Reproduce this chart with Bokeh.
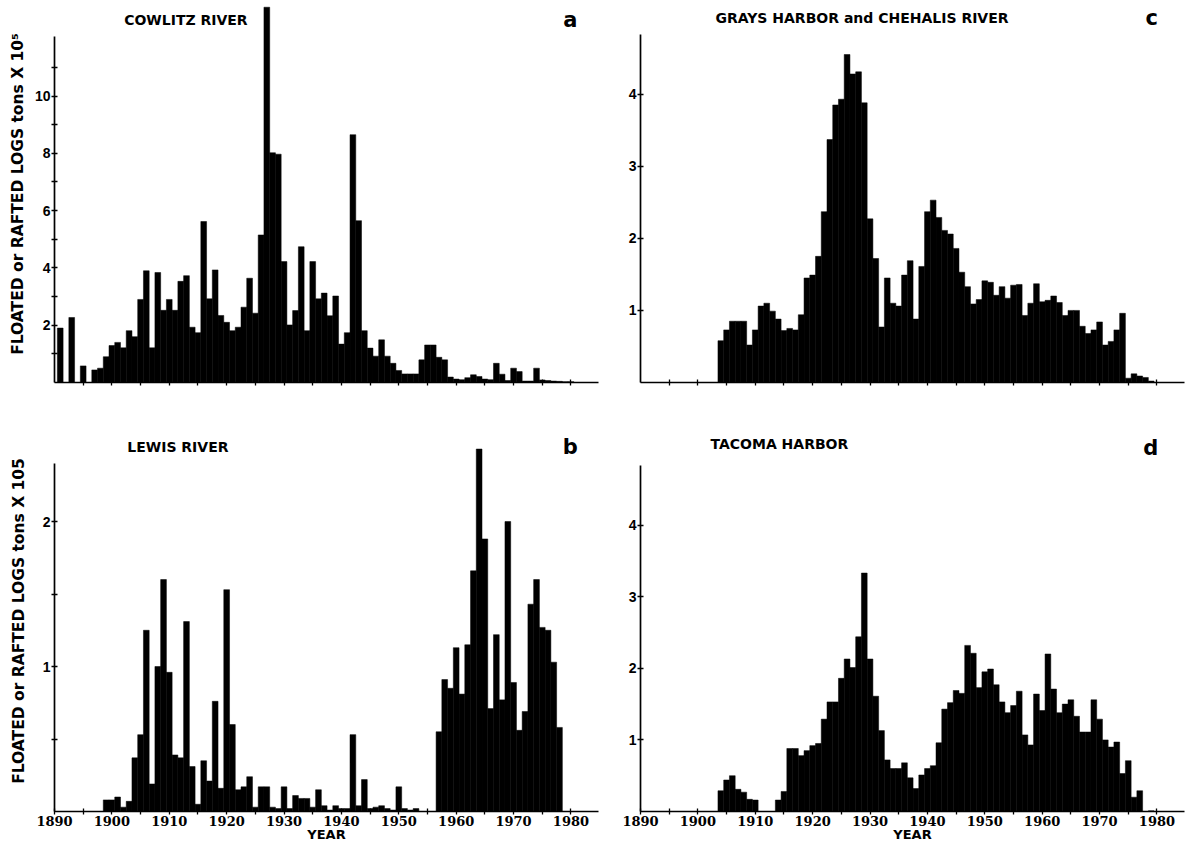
from bokeh.plotting import figure
from bokeh.layouts import column, row
from bokeh.models import FixedTicker, Range1d, Label, CustomJSTickFormatter
from bokeh.embed import file_html
from bokeh.resources import INLINE

years = list(range(1890, 1981))

# Cowlitz River (tons x 10^5), 1890-1980
cowlitz = [0, 1.9, 0, 2.27, 0, 0.58, 0, 0.44, 0.5, 0.9,
           1.29, 1.4, 1.21, 1.81, 1.6, 2.9, 3.9, 1.21, 3.84, 2.52,
           2.9, 2.52, 3.53, 3.73, 1.93, 1.74, 5.62, 2.92, 3.93, 2.34,
           2.1, 1.81, 1.93, 2.63, 3.64, 2.42, 5.15, 13.1, 8.02, 7.97,
           4.22, 2.01, 2.51, 4.74, 1.81, 4.22, 2.92, 3.12, 2.33, 3.02,
           1.34, 1.74, 8.65, 5.65, 1.81, 1.2, 0.92, 1.49, 0.92, 0.67,
           0.42, 0.3, 0.3, 0.3, 0.79, 1.31, 1.31, 0.88, 0.79, 0.19,
           0.12, 0.1, 0.17, 0.27, 0.21, 0.12, 0.1, 0.67, 0.29, 0.07,
           0.5, 0.38, 0.05, 0.05, 0.5, 0.09, 0.07, 0.05, 0.04, 0.03,
           0.03]

# Lewis River
lewis = [0, 0, 0, 0, 0, 0, 0, 0, 0, 0.08,
         0.08, 0.1, 0.03, 0.07, 0.37, 0.53, 1.25, 0.19, 1.0, 1.6,
         0.96, 0.39, 0.37, 1.31, 0.31, 0.05, 0.35, 0.21, 0.76, 0.16,
         1.53, 0.6, 0.15, 0.17, 0.24, 0.03, 0.17, 0.17, 0.03, 0.02,
         0.17, 0.02, 0.11, 0.09, 0.09, 0.03, 0.15, 0.04, 0.01, 0.04,
         0.02, 0.02, 0.53, 0.04, 0.22, 0.02, 0.03, 0.04, 0.02, 0.01,
         0.17, 0.02, 0.01, 0.02, 0, 0, 0, 0.55, 0.91, 0.85,
         1.13, 0.81, 1.15, 1.66, 2.5, 1.88, 0.71, 1.22, 0.77, 2.0,
         0.89, 0.56, 0.69, 1.43, 1.6, 1.27, 1.25, 1.03, 0.58, 0,
         0]

# Grays Harbor and Chehalis River
grays = [0, 0, 0, 0, 0, 0, 0, 0, 0, 0,
         0, 0, 0, 0, 0.58, 0.73, 0.85, 0.85, 0.85, 0.52,
         0.73, 1.06, 1.1, 0.99, 0.88, 0.72, 0.75, 0.73, 0.94, 1.45,
         1.49, 1.75, 2.37, 3.37, 3.85, 3.93, 4.55, 4.28, 4.31, 3.88,
         2.27, 1.72, 0.77, 1.45, 1.1, 1.06, 1.49, 1.69, 0.88, 1.61,
         2.37, 2.53, 2.29, 2.11, 2.06, 1.86, 1.53, 1.33, 1.09, 1.15,
         1.41, 1.39, 1.21, 1.33, 1.17, 1.35, 1.36, 0.93, 1.1, 1.37,
         1.12, 1.14, 1.2, 1.11, 0.93, 1.0, 1.0, 0.78, 0.68, 0.73,
         0.84, 0.52, 0.57, 0.73, 0.96, 0.06, 0.12, 0.09, 0.07, 0.02,
         0]

# Tacoma Harbor
tacoma = [0, 0, 0, 0, 0, 0, 0, 0, 0, 0,
          0, 0, 0, 0, 0.29, 0.44, 0.5, 0.31, 0.27, 0.17,
          0.16, 0, 0, 0, 0.16, 0.28, 0.88, 0.88, 0.78, 0.85,
          0.92, 0.95, 1.29, 1.53, 1.53, 1.86, 2.13, 2.01, 2.44, 3.33,
          2.13, 1.61, 1.13, 0.72, 0.6, 0.6, 0.68, 0.47, 0.32, 0.51,
          0.6, 0.64, 0.96, 1.43, 1.52, 1.69, 1.65, 2.32, 2.21, 1.73,
          1.95, 1.99, 1.77, 1.53, 1.38, 1.48, 1.68, 1.07, 0.93, 1.64,
          1.41, 2.2, 1.71, 1.38, 1.5, 1.56, 1.33, 1.11, 1.11, 1.56,
          1.29, 1.0, 0.9, 0.97, 0.53, 0.71, 0.2, 0.29, 0, 0.01,
          0]

decades = [1890, 1900, 1910, 1920, 1930, 1940, 1950, 1960, 1970, 1980]
halves = [1895, 1905, 1915, 1925, 1935, 1945, 1955, 1965, 1975]
five_year = [1895, 1900, 1905, 1910, 1915, 1920, 1925, 1930, 1935, 1940, 1945,
             1950, 1955, 1960, 1965, 1970, 1975, 1980]

YLABEL_A = "FLOATED or RAFTED LOGS tons X 10\u2075"
YLABEL_B = "FLOATED or RAFTED LOGS tons X 105"

TITLE_FONT = "DejaVu Sans"


def make_panel(values, width, height, left, right, top, bottom, y_end, y_bound,
               y_major, y_minor, labelled_x, ylabel=None, ylabel_standoff=8,
               xlabel_standoff=0):
    p = figure(width=width, height=height,
               x_range=Range1d(1890, 1984.8), y_range=Range1d(0, y_end),
               output_backend="svg", toolbar_location=None,
               min_border_left=left, min_border_right=right,
               min_border_top=top, min_border_bottom=bottom)
    p.vbar(x=years, top=values, width=1.0, bottom=0,
           fill_color="black", line_color="black", line_width=0.5)
    p.xgrid.visible = False
    p.ygrid.visible = False
    p.outline_line_color = None
    p.background_fill_color = "white"
    p.border_fill_color = "white"

    xa = p.xaxis[0]
    ya = p.yaxis[0]
    for ax in (xa, ya):
        ax.axis_line_color = "black"
        ax.axis_line_width = 1.7
        ax.major_tick_line_color = "black"
        ax.minor_tick_line_color = "black"
        ax.major_tick_line_width = 1.3
        ax.minor_tick_line_width = 1.3
        ax.major_tick_in = 3
        ax.major_tick_out = 3
        ax.minor_tick_in = 3
        ax.minor_tick_out = 3

    ya.bounds = (0, y_bound)
    ya.ticker = FixedTicker(ticks=y_major, minor_ticks=y_minor)
    ya.major_label_text_font = "Liberation Sans"
    ya.major_label_text_font_style = "bold"
    ya.major_label_text_font_size = "14px"
    ya.major_label_text_color = "black"
    ya.major_label_standoff = 1
    if ylabel:
        ya.axis_label = ylabel
        ya.axis_label_text_font = TITLE_FONT
        ya.axis_label_text_font_style = "bold"
        ya.axis_label_text_font_size = "15.5px"
        ya.axis_label_text_color = "black"
        ya.axis_label_standoff = ylabel_standoff

    if labelled_x:
        xa.ticker = FixedTicker(ticks=decades, minor_ticks=halves)
        xa.major_label_text_font = "DejaVu Serif"
        xa.major_label_text_font_style = "bold"
        xa.major_label_text_font_size = "13px"
        xa.major_label_text_color = "black"
        xa.major_label_standoff = 1
        xa.axis_label = "YEAR"
        xa.axis_label_text_font = TITLE_FONT
        xa.axis_label_text_font_style = "bold"
        xa.axis_label_text_font_size = "13px"
        xa.axis_label_text_color = "black"
        xa.axis_label_standoff = xlabel_standoff
    else:
        xa.ticker = FixedTicker(ticks=five_year, minor_ticks=[])
        xa.formatter = CustomJSTickFormatter(code="return ''")
        xa.major_label_standoff = 0
    return p


def add_text(p, text, x, y, size):
    p.add_layout(Label(x=x, y=y, text=text, text_align="center",
                       text_baseline="alphabetic", text_font=TITLE_FONT,
                       text_font_style="bold", text_font_size=size,
                       text_color="black"))


pa = make_panel(cowlitz, 615, 420, 54, 17, 5, 38, 13.16, 12.08,
                [2, 4, 6, 8, 10], [1, 3, 5, 7, 9, 11], False,
                ylabel=YLABEL_A, ylabel_standoff=5)
add_text(pa, "COWLITZ RIVER", 1912.9, 12.67, "14px")
add_text(pa, "a", 1979.9, 12.67, "21px")

pc = make_panel(grays, 570, 420, 25, 1, 5, 38, 5.23, 4.83,
                [1, 2, 3, 4], [], False)
add_text(pc, "GRAYS HARBOR and CHEHALIS RIVER", 1928.6, 5.06, "14px")
add_text(pc, "c", 1979.1, 5.05, "21px")

pb = make_panel(lewis, 615, 425, 54, 17, 10, 34, 2.628, 2.4,
                [1, 2], [0.5, 1.5], True,
                ylabel=YLABEL_B, ylabel_standoff=12, xlabel_standoff=-2)
add_text(pb, "LEWIS RIVER", 1911.5, 2.514, "14px")
add_text(pb, "b", 1979.9, 2.514, "21px")

pd_ = make_panel(tacoma, 570, 425, 25, 1, 10, 34, 5.321, 4.83,
                 [1, 2, 3, 4], [], True, xlabel_standoff=-2)
add_text(pd_, "TACOMA HARBOR", 1914.2, 5.128, "14px")
add_text(pd_, "d", 1978.9, 5.077, "21px")

layout = column(row(pa, pc), row(pb, pd_))

open("out.html", "w").write(file_html(layout, INLINE))
